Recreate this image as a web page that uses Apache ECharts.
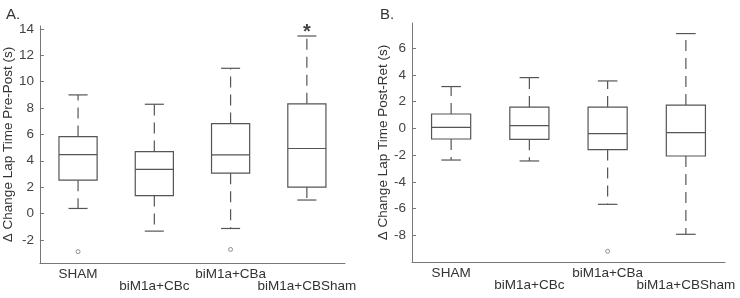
<!DOCTYPE html>
<html>
<head>
<meta charset="utf-8">
<script src="https://cdn.jsdelivr.net/npm/echarts@6/dist/echarts.min.js"></script>
<style>
  html, body { margin: 0; padding: 0; background: #fff; }
  #chart { width: 740px; height: 298px; }
</style>
</head>
<body>
<div id="chart"></div>
<script>
// groups
const categories = ['SHAM', 'biM1a+CBc', 'biM1a+CBa', 'biM1a+CBSham'];

// box stats per group: [lower whisker, Q1, median, Q3, upper whisker]
const prePostStats = [
  [0.38, 2.53, 4.47, 5.84, 9.0],
  [-1.34, 1.36, 3.34, 4.7, 8.29],
  [-1.14, 3.06, 4.45, 6.82, 11.02],
  [1.02, 2.0, 4.93, 8.32, 13.47]
];
const prePostOutliers = [[0, -2.9], [2, -2.73]];

const postRetStats = [
  [-2.37, -0.8, 0.07, 1.07, 3.12],
  [-2.44, -0.82, 0.2, 1.59, 3.79],
  [-5.68, -1.59, -0.4, 1.59, 3.54],
  [-7.92, -2.07, -0.32, 1.74, 7.08]
];
const postRetOutliers = [[2, -9.19]];

// tick labels
const prePostTicks = [-2, 0, 2, 4, 6, 8, 10, 12, 14];
const postRetTicks = [-8, -6, -4, -2, 0, 2, 4, 6];

// significance marker
const sigMarks = [[3, 14.15]];

const lineColor = '#555';
const axisColor = '#777';
const textColor = '#333';
const font = 'Liberation Sans, Arial, sans-serif';

const chart = echarts.init(document.getElementById('chart'));

function renderBox(params, api) {
  const i = api.value(0);
  const x = api.coord([i, 0])[0];
  const lo = api.coord([i, api.value(1)])[1];
  const q1 = api.coord([i, api.value(2)])[1];
  const med = api.coord([i, api.value(3)])[1];
  const q3 = api.coord([i, api.value(4)])[1];
  const hi = api.coord([i, api.value(5)])[1];
  const bw = api.size([1, 0])[0] * 0.5;
  const cw = bw * 0.5;
  const solid = { stroke: lineColor, lineWidth: 1.2, fill: null };
  const dashed = { stroke: lineColor, lineWidth: 1.2, lineDash: [11, 7] };
  return {
    type: 'group',
    children: [
      { type: 'line', shape: { x1: x, y1: q3, x2: x, y2: hi }, style: dashed },
      { type: 'line', shape: { x1: x, y1: q1, x2: x, y2: lo }, style: dashed },
      { type: 'line', shape: { x1: x - cw / 2, y1: hi, x2: x + cw / 2, y2: hi }, style: solid },
      { type: 'line', shape: { x1: x - cw / 2, y1: lo, x2: x + cw / 2, y2: lo }, style: solid },
      { type: 'rect', shape: { x: x - bw / 2, y: q3, width: bw, height: q1 - q3 }, style: { stroke: lineColor, lineWidth: 1.2, fill: 'none' } },
      { type: 'line', shape: { x1: x - bw / 2, y1: med, x2: x + bw / 2, y2: med }, style: solid }
    ]
  };
}

function xAxisCfg(gridIndex) {
  return {
    type: 'category',
    gridIndex: gridIndex,
    data: categories,
    boundaryGap: true,
    axisLine: { onZero: false, lineStyle: { color: axisColor, width: 1 } },
    axisTick: { inside: true, alignWithLabel: true, length: 4, lineStyle: { color: axisColor } },
    axisLabel: {
      color: textColor, fontSize: 13.5, fontFamily: font, margin: 5, lineHeight: 12.5,
      interval: 0,
      formatter: function (v, idx) { return idx % 2 ? '\n' + v : v; }
    },
    splitLine: { show: false }
  };
}

function yAxisCfg(gridIndex, min, max, ticks, name, gap) {
  return {
    type: 'value',
    gridIndex: gridIndex,
    min: min,
    max: max,
    name: name,
    nameLocation: 'middle',
    nameGap: gap,
    nameTextStyle: { color: textColor, fontSize: 13.5, fontFamily: font },
    axisLine: { show: true, onZero: false, lineStyle: { color: axisColor, width: 1 } },
    axisTick: { show: true, inside: true, length: 4, customValues: ticks, lineStyle: { color: axisColor } },
    axisLabel: { color: '#444', fontSize: 13.5, fontFamily: font, margin: 6, customValues: ticks },
    splitLine: { show: false }
  };
}

function boxData(stats) {
  return stats.map(function (s, i) { return [i].concat(s); });
}

chart.setOption({
  animation: false,
  backgroundColor: '#fff',
  title: [
    { text: 'A.', left: 1, top: 2, textStyle: { color: textColor, fontSize: 15, fontWeight: 'normal', fontFamily: font } },
    { text: 'B.', left: 375, top: 2, textStyle: { color: textColor, fontSize: 15, fontWeight: 'normal', fontFamily: font } }
  ],
  grid: [
    { left: 36, top: 26, width: 309, height: 237 },
    { left: 412, top: 23, width: 313, height: 239 }
  ],
  xAxis: [xAxisCfg(0), xAxisCfg(1)],
  yAxis: [
    yAxisCfg(0, -3.76, 14.23, prePostTicks, 'Δ Change Lap Time Pre-Post (s)', 21),
    yAxisCfg(1, -9.99, 7.87, postRetTicks, 'Δ Change Lap Time Post-Ret (s)', 17)
  ],
  series: [
    {
      type: 'custom', xAxisIndex: 0, yAxisIndex: 0,
      renderItem: renderBox, data: boxData(prePostStats),
      encode: { x: 0, y: [1, 2, 3, 4, 5] }
    },
    {
      type: 'custom', xAxisIndex: 1, yAxisIndex: 1,
      renderItem: renderBox, data: boxData(postRetStats),
      encode: { x: 0, y: [1, 2, 3, 4, 5] }
    },
    {
      type: 'scatter', xAxisIndex: 0, yAxisIndex: 0, data: prePostOutliers,
      symbol: 'circle', symbolSize: 4,
      itemStyle: { color: '#fff', borderColor: '#777', borderWidth: 1 }
    },
    {
      type: 'scatter', xAxisIndex: 1, yAxisIndex: 1, data: postRetOutliers,
      symbol: 'circle', symbolSize: 4,
      itemStyle: { color: '#fff', borderColor: '#777', borderWidth: 1 }
    },
    {
      type: 'scatter', xAxisIndex: 0, yAxisIndex: 0, data: sigMarks,
      symbolSize: 0, clip: false,
      label: {
        show: true, position: 'inside', formatter: '*', offset: [0, 5],
        color: '#111', fontSize: 20, fontWeight: 'bold', fontFamily: font
      }
    }
  ]
});
</script>
</body>
</html>
